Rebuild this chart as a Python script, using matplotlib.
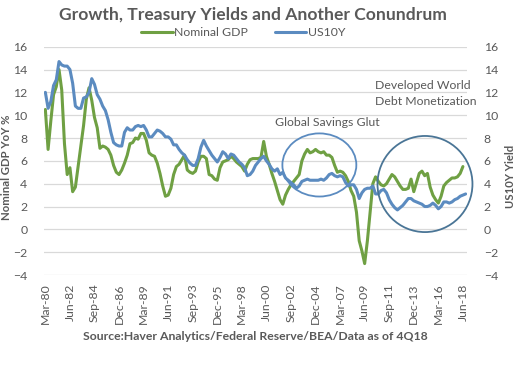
import matplotlib
matplotlib.use("Agg")
import matplotlib.pyplot as plt
from matplotlib.patches import Ellipse
import numpy as np

# ---------------- data ----------------
months = ["Mar", "Jun", "Sep", "Dec"]
quarters = [f"{months[q]}-{str(y)[2:]}" for y in range(1980, 2019) for q in range(4)][:155]

nominal_gdp = [
    10.5, 7.0, 9.5, 11.8,     # 1980
    12.5, 14.0, 12.2, 7.5,    # 1981
    4.8, 5.4, 3.3, 3.7,       # 1982
    5.5, 7.3, 9.1, 11.4,      # 1983
    12.4, 11.3, 9.8, 8.9,     # 1984
    7.1, 7.3, 7.2, 7.0,       # 1985
    6.5, 5.6, 5.0, 4.8,       # 1986
    5.2, 5.8, 6.5, 7.5,       # 1987
    7.6, 8.0, 7.9, 8.4,       # 1988
    8.4, 7.8, 6.7, 6.5,       # 1989
    6.4, 5.8, 4.9, 3.8,       # 1990
    2.9, 3.0, 3.6, 4.8,       # 1991
    5.5, 5.7, 6.1, 6.5,       # 1992
    5.2, 5.0, 4.9, 5.1,       # 1993
    5.9, 6.4, 6.4, 6.2,       # 1994
    4.8, 4.7, 4.4, 4.3,       # 1995
    5.4, 5.9, 6.0, 6.1,       # 1996
    6.4, 6.2, 5.9, 5.7,       # 1997
    5.5, 5.1, 5.7, 6.1,       # 1998
    6.2, 6.2, 6.2, 6.3,       # 1999
    7.7, 6.4, 5.7, 4.9,       # 2000
    4.2, 3.4, 2.6, 2.2,       # 2001
    3.0, 3.5, 3.9, 4.2,       # 2002
    4.5, 4.8, 6.0, 6.6,       # 2003
    7.0, 6.7, 6.8, 7.0,       # 2004
    6.8, 6.7, 6.8, 6.5,       # 2005
    6.5, 6.3, 5.6, 5.0,       # 2006
    5.1, 5.0, 4.7, 4.2,       # 2007
    3.4, 2.9, 1.5, -1.0,      # 2008
    -1.9, -3.0, -1.0, 1.5,    # 2009
    4.0, 4.6, 4.2, 3.9,       # 2010
    3.8, 4.0, 4.4, 4.8,       # 2011
    4.6, 4.2, 3.8, 3.5,       # 2012
    3.5, 3.6, 4.4, 3.3,       # 2013
    4.1, 4.9, 5.1, 4.7,       # 2014
    4.9, 3.7, 3.0, 2.6,       # 2015
    2.3, 2.9, 3.8, 4.1,       # 2016
    4.3, 4.5, 4.5, 4.6,       # 2017
    4.9, 5.5, np.nan,         # 2018
]

us10y = [
    12.0, 10.6, 11.2, 12.6,   # 1980
    13.1, 14.7, 14.4, 14.3,   # 1981
    14.3, 14.0, 12.8, 10.8,   # 1982
    10.6, 10.6, 11.5, 11.6,   # 1983
    12.0, 13.2, 12.7, 11.8,   # 1984
    11.4, 10.8, 10.4, 9.6,    # 1985
    8.5, 7.6, 7.4, 7.3,       # 1986
    7.3, 8.5, 8.9, 8.7,       # 1987
    8.7, 9.0, 9.1, 9.0,       # 1988
    9.1, 8.7, 8.1, 8.1,       # 1989
    8.4, 8.7, 8.6, 8.4,       # 1990
    8.1, 8.1, 7.9, 7.4,       # 1991
    7.4, 7.0, 6.7, 6.5,       # 1992
    6.1, 5.8, 5.6, 5.6,       # 1993
    6.2, 7.2, 7.8, 7.3,       # 1994
    6.9, 6.5, 6.2, 5.9,       # 1995
    6.3, 6.8, 6.6, 6.2,       # 1996
    6.6, 6.5, 6.2, 5.9,       # 1997
    5.7, 5.4, 4.7, 4.8,       # 1998
    5.1, 5.6, 5.9, 6.2,       # 1999
    6.4, 6.0, 5.7, 5.3,       # 2000
    5.1, 5.3, 4.8, 5.0,       # 2001
    4.5, 4.3, 4.1, 3.9,       # 2002
    3.6, 3.8, 4.2, 4.3,       # 2003
    4.4, 4.3, 4.3, 4.3,       # 2004
    4.3, 4.4, 4.3, 4.5,       # 2005
    4.8, 4.9, 4.7, 4.6,       # 2006
    4.7, 4.6, 4.1, 3.8,       # 2007
    3.9, 3.9, 3.5, 2.7,       # 2008
    3.2, 3.5, 3.6, 3.6,       # 2009
    3.8, 3.1, 3.1, 3.4,       # 2010
    3.5, 3.2, 2.6, 2.2,       # 2011
    1.9, 1.7, 1.9, 2.1,       # 2012
    2.4, 2.7, 2.7, 2.5,       # 2013
    2.4, 2.3, 2.2, 2.0,       # 2014
    2.0, 2.1, 2.3, 2.1,       # 2015
    1.8, 2.0, 2.4, 2.4,       # 2016
    2.3, 2.4, 2.6, 2.7,       # 2017
    2.9, 3.0, 3.1,            # 2018
]

y_ticks = list(range(-4, 17, 2))
title = "Growth, Treasury Yields and Another Conundrum"
source = "Source:Haver Analytics/Federal Reserve/BEA/Data as of 4Q18"

# ---------------- style ----------------
FONT = ["Lato", "DejaVu Sans"]
plt.rcParams["font.family"] = FONT
GRAY = "#595959"
GREEN = "#6FA043"
BLUE = "#5B8BC0"

W, H = 516, 387
fig = plt.figure(figsize=(W / 100, H / 100), dpi=100)
ax = fig.add_axes([44 / W, 1 - 275 / H, (467 - 44) / W, (275 - 46.7) / H])
ax2 = ax.twinx()

x = np.arange(len(quarters))
l1, = ax.plot(x, nominal_gdp, color=GREEN, lw=2.2, solid_capstyle="round", zorder=3)
l2, = ax2.plot(x, us10y, color=BLUE, lw=2.2, solid_capstyle="round", zorder=3)

for a in (ax, ax2):
    a.set_ylim(-4, 16)
    a.set_yticks(y_ticks)
    a.set_xlim(-0.5, len(quarters) - 0.5)
    for s in a.spines.values():
        s.set_visible(False)
    a.tick_params(length=0, colors=GRAY, labelsize=8.8)

ax.grid(axis="y", color="#D9D9D9", lw=0.9)
ax.set_axisbelow(True)
ax.yaxis.set_tick_params(pad=12)
ax2.yaxis.set_tick_params(pad=12)

tick_idx = list(range(0, len(quarters), 9))
ax.set_xticks(tick_idx)
ax.set_xticklabels([quarters[i] for i in tick_idx], rotation=90, fontsize=8.8, color=GRAY)
ax.tick_params(axis="x", pad=6)

axw = 467 - 44
ax.set_ylabel("Nominal GDP YoY %", fontsize=8.2, fontweight="bold", color=GRAY)
ax.yaxis.set_label_coords((12 - 44) / axw, 0.47)
ax2.set_ylabel("US10Y Yield", fontsize=8.2, fontweight="bold", color=GRAY)
ax2.yaxis.set_label_coords((505 - 44) / axw, 0.43)

# ellipses (annotations)
e1 = Ellipse((100.4, 5.64), 27.1, 5.53, fill=False, ec="#5B8BC0", lw=1.3, zorder=4, clip_on=False)
e2 = Ellipse((139.1, 3.97), 34.8, 8.42, fill=False, ec="#4A7596", lw=1.3, zorder=4, clip_on=False)
ax2.add_patch(e1)
ax2.add_patch(e2)

ax2.text(84.1, 9.35, "Global Savings Glut", fontsize=8.8, color=GRAY, va="center", ha="left")
ax2.text(120.7, 12.57, "Developed World", fontsize=8.8, color=GRAY, va="center", ha="left", clip_on=False)
ax2.text(120.7, 11.2, "Debt Monetization", fontsize=8.8, color=GRAY, va="center", ha="left", clip_on=False)

fig.text(252.5 / W, 1 - 15 / H, title, fontsize=12.6, fontweight="bold", color=GRAY,
         ha="center", va="center")
fig.text(255.5 / W, 1 - 336 / H, source, fontsize=8.8, fontweight="bold", color=GRAY,
         ha="center", va="center")

leg = fig.legend([l1, l2], ["Nominal GDP", "US10Y"], loc="center", bbox_to_anchor=(243 / W, 1 - 32.5 / H),
                 ncol=2, frameon=False, fontsize=8.8, handlelength=2.6, columnspacing=2.2,
                 handletextpad=0.1, labelcolor=GRAY)

fig.savefig("out.png", dpi=100)
